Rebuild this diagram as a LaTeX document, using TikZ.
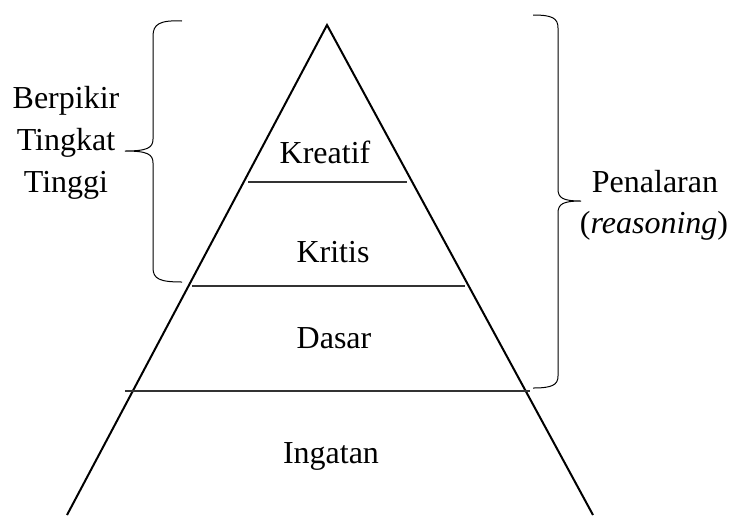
\documentclass[tikz,border=0pt]{standalone}
\usepackage{fontspec}
\setmainfont{Liberation Serif}
\tikzset{
  side/.style={black,line width=1pt},
  level/.style={black!80,line width=0.55pt},
  curly/.style={black,line width=0.5pt},
  lbl/.style={inner sep=0pt,font=\fontsize{16}{21}\selectfont}
}

\begin{document}
\begin{tikzpicture}[x=0.5pt,y=-0.5pt]
    \useasboundingbox (0,0) rectangle (731,515);
    % pyramid
    \coordinate (apex) at (327,25);
    \draw[side] (67,515) -- (apex) -- (593,515);
    \draw[level] (248,182) -- (407,182);
    \draw[level] (192,286) -- (465,286);
    \draw[level] (125,391) -- (530,391);
    % levels
    \node[lbl,anchor=base] (kreatif) at (325,163) {Kreatif};
    \node[lbl,anchor=base] (kritis) at (333,262) {Kritis};
    \node[lbl,anchor=base] (dasar) at (334,348) {Dasar};
    \node[lbl,anchor=base] (ingatan) at (331,463) {Ingatan};
    % braces
    \draw[curly] (182,21) .. controls (160,20) and (153,24) .. (153,36) -- (153,139)
      .. controls (153,148) and (147,151) .. (125,151)
      .. controls (147,151) and (153,154) .. (153,163) -- (153,268)
      .. controls (153,279) and (160,282) .. (182,282);
    \draw[curly] (533,15) .. controls (552,15) and (558,18) .. (558,28) -- (558,189)
      .. controls (558,198) and (563,201) .. (581,201)
      .. controls (563,201) and (558,204) .. (558,213) -- (558,376)
      .. controls (558,385) and (552,388) .. (533,388);
    \node[lbl,align=center] (hot) at (66,143) {Berpikir\\Tingkat\\Tinggi};
    \node[lbl,align=center,anchor=base] (penalaran) at (655,192) {Penalaran};
    \node[lbl,align=center,anchor=base] (reasoning) at (654,233) {(\textit{reasoning})};
  \end{tikzpicture}
\end{document}
